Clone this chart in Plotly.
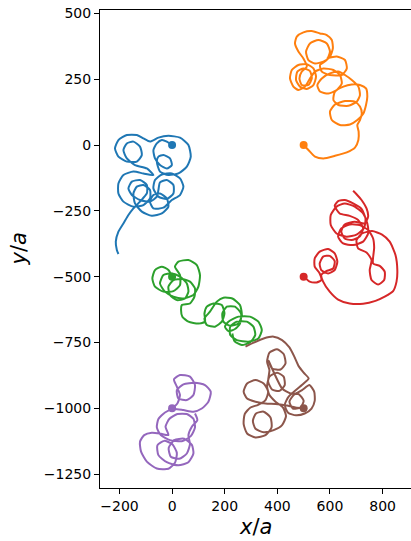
import plotly.graph_objects as go

# Particle trajectories in units of a; each list starts at the particle's initial position.
blue_x = [0, -20, -39, -58, -71, -65, -46, -20, -1, -8, -33, -52, -58, -46, -14, 24, 56, 71, 62, 30,
          -14, -52, -84, -109, -134, -172, -204, -217, -204, -172, -134, -115, -122, -147, -172, -185,
          -172, -141, -96, -71, -109, -147, -185, -204, -204, -185, -147, -109, -84, -84, -109, -134,
          -147, -141, -115, -77, -39, -14, -20, -46, -71, -84, -71, -33, -1, 30, 43, 30, -1, -39, -65,
          -71, -52, -20, 5, 5, -20, -46, -52, -58, -84, -122, -153, -166, -153, -122, -96, -96, -122,
          -147, -166, -185, -204, -214, -210, -204]
blue_y = [0, 13, 19, 6, -19, -51, -76, -89, -76, -51, -38, -44, -63, -101, -114, -108, -82, -44, 0, 28,
          35, 28, 13, 25, 38, 38, 19, -13, -44, -63, -63, -38, -6, 13, 6, -19,
          -51, -76, -89, -114, -108, -101, -114, -146, -184, -215, -234, -228, -203, -171, -152, -158,
          -184, -222, -253, -269, -260, -234, -203, -184, -190, -215, -241, -238, -209, -190, -158, -127, -108, -112, -133,
          -165, -196, -205, -184, -152, -133, -142, -171, -196, -215, -209, -190, -165, -139, -133, -152, -184, -215,
          -241, -266, -298, -329, -367, -399, -414]

orange_x = [500, 518, 543, 575, 619, 664, 695, 708, 709, 704, 714, 721, 714, 695, 657, 619, 600, 607, 638, 676,
            704, 727, 737, 742, 737, 714, 683, 651, 619, 613, 632, 670, 702, 714, 708, 683, 657, 632, 600, 569,
            552, 562, 594, 626, 645, 638, 613, 575, 543, 524, 505, 480, 461, 448, 455, 480, 512, 537, 547, 537,
            512, 486, 471, 476, 499, 524, 531, 518, 493, 484, 493, 512, 499, 480, 467, 474, 499, 531, 562, 588,
            607, 611, 600, 575, 543, 518, 509, 524, 556, 588, 600, 588, 562, 569, 600, 645, 664, 657, 626, 588]
orange_y = [0, -19, -44, -51, -41, -28, -10, 19, 51, 76, 95, 120, 146, 165, 167, 154, 127, 95, 76, 78,
            95, 120, 152, 184, 215, 228, 230, 222, 203, 171, 152, 149, 165, 190, 222, 247, 266, 279, 272, 253,
            228, 203, 196, 209, 234, 266, 285, 291, 279, 253, 222, 209, 222, 253, 285, 304, 307, 291, 260, 228,
            213, 222, 247, 279, 291, 281, 253, 228, 228, 253, 279, 298, 329, 355, 386, 412, 428, 433, 424, 418,
            399, 367, 336, 317, 310, 323, 355, 386, 399, 386, 355, 323, 304, 279, 266, 266, 291, 323, 336, 329]

green_x = [0, -14, -39, -65, -75, -65, -33, 5, 30, 30, 11, 24, 62, 94, 106, 100, 81, 43, 5, -27,
           -46, -33, -1, 30, 56, 62, 49, 18, -8, -14, 5, 37, 68, 87, 85, 68, 37, 34, 39, 62,
           100, 125, 123, 132, 157, 189, 199, 189, 163, 132, 123, 144, 170, 195, 229, 258, 265, 252, 221, 195,
           191, 208, 239, 262, 258, 239, 214, 201, 214, 252, 296, 328, 341, 328, 290, 246, 221, 221, 246, 284,
           309, 316, 296, 265, 237, 229]
green_y = [-500, -475, -462, -475, -507, -538, -557, -555, -532, -494, -462, -443, -437, -456, -494, -538, -570, -583, -576, -557,
           -526, -494, -488, -500, -526, -557, -583, -589, -570, -538, -513, -509, -519, -545, -576, -602, -608, -627, -652, -671,
           -678, -671, -640, -614, -602, -608, -640, -671, -690, -684, -659, -633, -595, -580, -583, -608, -646, -678, -687, -671,
           -640, -614, -614, -640, -678, -699, -707, -690, -671, -652, -652, -671, -703, -735, -747, -741, -722, -690, -671, -671,
           -690, -722, -750, -760, -745, -716]

red_x = [500, 523, 549, 567, 561, 542, 542, 561, 593, 618, 628, 618, 593, 567, 561, 574, 599, 618, 612, 586,
         567, 574, 599, 631, 675, 726, 773, 808, 840, 853, 856, 849, 827, 798, 760, 722, 701, 707, 739,
         758, 751, 758, 783, 806, 808, 789, 764, 768, 764, 745, 713, 675, 643, 631, 650, 688, 726, 745, 742,
         726, 694, 656, 625, 603, 603, 625, 663, 701, 730, 735, 720, 688, 656, 631, 618, 637, 675, 707, 726,
         713, 682, 656, 643, 656, 694, 732, 745, 739, 720, 701, 688]
red_y = [-500, -519, -522, -513, -488, -462, -431, -405, -395, -412, -443, -475, -488, -475, -450, -424, -421, -441, -469, -479,
         -494, -519, -557, -587, -602, -603, -592, -576, -555, -519, -475, -418, -367, -340, -327, -336, -361, -393, -408,
         -437, -475, -513, -530, -513, -481, -459, -450, -390, -355, -323, -304, -302, -317, -348, -374, -380, -367, -336, -298,
         -260, -234, -222, -234, -266, -304, -336, -348, -340, -314, -279, -243, -222, -209, -213, -231, -260, -269, -285, -317,
         -348, -361, -355, -329, -302, -291, -298, -272, -241, -209, -187, -174]

purple_x = [0, 20, 30, 18, 7, 30, 68, 87, 81, 56, 24, 18, 43, 87, 125, 147, 138, 113, 81, 43,
            5, -27, -52, -58, -43, -8, 37, 71, 87, 81, 56, 20, -10, -25, -14, -46, -77, -106, -122, -118,
            -96, -58, -14, 11, 18, 0, -30, -56, -52, -20, 24, 62, 81, 75, 46, 8, -13, -5, 27, 56,
            68, 62, 75, 96, 87]
purple_y = [-1000, -982, -950, -918, -890, -874, -880, -912, -950, -969, -963, -931, -909, -903, -912, -937, -975, -1001, -1013, -1007,
            -1003, -1016, -1041, -1073, -1102, -1121, -1125, -1106, -1073, -1040, -1022, -1022, -1040, -1070, -1102, -1096, -1093, -1102, -1127, -1165,
            -1203, -1229, -1230, -1207, -1169, -1136, -1124, -1141, -1178, -1205, -1217, -1205, -1172, -1139, -1116, -1121, -1151, -1184, -1192, -1172,
            -1136, -1102, -1070, -1045, -1020]

brown_x = [500, 469, 431, 393, 355, 317, 285, 272, 285, 317, 348, 365, 355, 327, 298, 276, 272, 285, 317, 355,
           378, 374, 348, 319, 307, 317, 348, 386, 418, 433, 421, 393, 370, 361, 370, 399, 424, 428, 408, 380,
           365, 370, 361, 370, 399, 424, 431, 412, 380, 367, 418, 450, 481, 500, 488, 459, 446, 462, 494, 522,
           540, 542, 530, 504, 471, 441, 428, 443, 500, 519, 500, 481, 466, 446, 418, 386, 348, 310, 279]
brown_y = [-1000, -997, -989, -984, -982, -975, -963, -937, -906, -893, -906, -937, -969, -987, -997, -1022, -1060, -1096, -1111, -1102,
           -1073, -1035, -1013, -1020, -1048, -1078, -1091, -1083, -1064, -1030, -997, -975, -950, -916, -880, -865, -880, -912, -934, -929,
           -899, -855, -823, -789, -776, -794, -830, -853, -849, -820, -925, -944, -946, -972, -997, -1001, -975, -950, -931, -912,
           -937, -972, -1001, -1020, -1027, -1017, -988, -956, -906, -887, -865, -840, -807, -769, -741, -728, -735, -751, -766]

series = [
    (blue_x, blue_y, "#1f77b4"),
    (orange_x, orange_y, "#ff7f0e"),
    (green_x, green_y, "#2ca02c"),
    (red_x, red_y, "#d62728"),
    (purple_x, purple_y, "#9467bd"),
    (brown_x, brown_y, "#8c564b"),
]

x_ticks = [-200, 0, 200, 400, 600, 800]
y_ticks = [500, 250, 0, -250, -500, -750, -1000, -1250]


def fmt(v):
    return ("\u2212" + str(-v)) if v < 0 else str(v)


fig = go.Figure()
for xs, ys, col in series:
    fig.add_trace(go.Scatter(x=xs, y=ys, mode="lines",
                             line=dict(color=col, width=2, shape="spline", smoothing=0.6),
                             showlegend=False, hoverinfo="skip"))
for xs, ys, col in series:
    fig.add_trace(go.Scatter(x=[xs[0]], y=[ys[0]], mode="markers",
                             marker=dict(color=col, size=8, line=dict(width=0)),
                             showlegend=False, hoverinfo="skip"))

axis_common = dict(showgrid=False, zeroline=False, showline=True, linecolor="black",
                   linewidth=1, mirror=True, ticks="outside", ticklen=5, tickwidth=1,
                   tickcolor="black",
                   tickfont=dict(family="DejaVu Sans", size=14, color="black"))

fig.update_layout(
    width=411, height=541, autosize=False,
    margin=dict(l=100, r=0, t=10, b=53),
    paper_bgcolor="white", plot_bgcolor="white",
    xaxis=dict(range=[-274, 908], tickvals=x_ticks, ticktext=[fmt(v) for v in x_ticks],
               **axis_common),
    yaxis=dict(range=[-1303, 513], tickvals=y_ticks, ticktext=[fmt(v) for v in y_ticks],
               **axis_common),
    annotations=[
        dict(text="<i>x</i>/<i>a</i>", x=0.5, y=-0.081, xref="paper", yref="paper",
             xanchor="center", yanchor="middle", showarrow=False,
             font=dict(family="DejaVu Sans", size=21, color="black")),
        dict(text="<i>y</i>/<i>a</i>", x=-0.262, y=0.5, xref="paper", yref="paper",
             xanchor="center", yanchor="middle", textangle=-90, showarrow=False,
             font=dict(family="DejaVu Sans", size=21, color="black")),
    ],
)

fig.write_html("out.html")
